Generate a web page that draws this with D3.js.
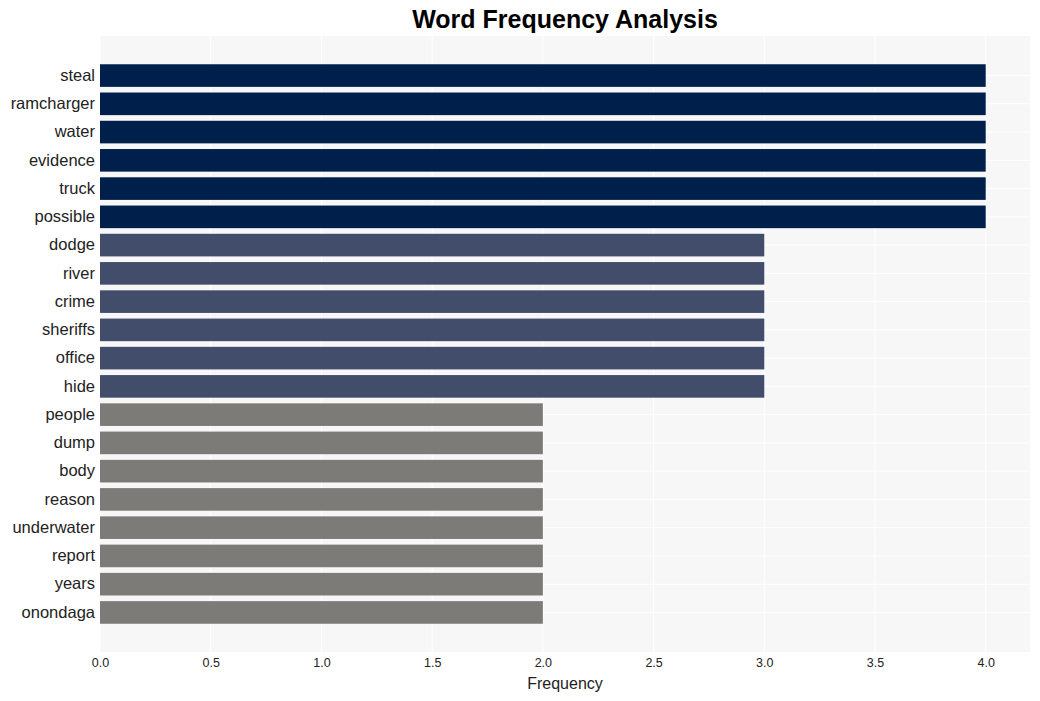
<!DOCTYPE html>
<html>
<head>
<meta charset="utf-8">
<script src="https://cdn.jsdelivr.net/npm/d3@7"></script>
<style>
  html, body { margin: 0; padding: 0; background: #ffffff; }
  svg { display: block; font-family: "Liberation Sans", Arial, sans-serif; }
</style>
</head>
<body>
<svg id="chart" width="1040" height="701"></svg>
<script>
const words = ["steal","ramcharger","water","evidence","truck","possible","dodge","river","crime","sheriffs","office","hide","people","dump","body","reason","underwater","report","years","onondaga"];
const counts = [4,4,4,4,4,4,3,3,3,3,3,3,2,2,2,2,2,2,2,2];
const xTicks = [0,0.5,1,1.5,2,2.5,3,3.5,4];
const colorByCount = {4: "#00204c", 3: "#414d6b", 2: "#7c7b78"};

(function () {
const svg = d3.select("#chart");
const mLeft = 100, mRight = 1030, mTop = 36, mBottom = 652;

const x = d3.scaleLinear().domain([0, 4.2]).range([mLeft, mRight]);
const y = d3.scaleBand().domain(words).range([mTop, mBottom]).paddingInner(0.2).paddingOuter(1.0);

svg.append("rect").attr("x", mLeft).attr("y", mTop).attr("width", mRight - mLeft).attr("height", mBottom - mTop).attr("fill", "#f7f7f7");

svg.append("g").selectAll("line").data(xTicks).join("line")
  .attr("x1", d => x(d)).attr("x2", d => x(d)).attr("y1", mTop).attr("y2", mBottom)
  .attr("stroke", "#ffffff").attr("stroke-width", 1);
svg.append("g").selectAll("line").data(words).join("line")
  .attr("x1", mLeft).attr("x2", mRight)
  .attr("y1", d => y(d) + y.bandwidth() / 2).attr("y2", d => y(d) + y.bandwidth() / 2)
  .attr("stroke", "#ffffff").attr("stroke-width", 1);

svg.append("g").selectAll("rect").data(words).join("rect")
  .attr("x", x(0))
  .attr("y", d => y(d))
  .attr("width", (d, i) => x(counts[i]) - x(0))
  .attr("height", y.bandwidth())
  .attr("fill", (d, i) => colorByCount[counts[i]]);

const yAxis = d3.axisLeft(y).tickSize(0).tickPadding(5);
const gy = svg.append("g").attr("transform", `translate(${mLeft},0)`).call(yAxis);
gy.select(".domain").remove();
gy.selectAll("text").attr("font-size", 16.5).attr("fill", "#222").attr("font-family", "Liberation Sans, Arial, sans-serif");

const xAxis = d3.axisBottom(x).tickValues(xTicks).tickFormat(d3.format(".1f")).tickSize(0).tickPadding(6);
const gx = svg.append("g").attr("transform", `translate(0,${mBottom})`).call(xAxis);
gx.select(".domain").remove();
gx.selectAll("text").attr("font-size", 12.5).attr("fill", "#222").attr("font-family", "Liberation Sans, Arial, sans-serif");

svg.append("text").attr("x", (mLeft + mRight) / 2).attr("y", 689).attr("text-anchor", "middle")
  .attr("font-size", 16).attr("fill", "#222").text("Frequency");

svg.append("text").attr("x", (mLeft + mRight) / 2).attr("y", 28).attr("text-anchor", "middle")
  .attr("font-size", 25).attr("font-weight", "bold").attr("fill", "#000").text("Word Frequency Analysis");
})();
</script>
</body>
</html>
